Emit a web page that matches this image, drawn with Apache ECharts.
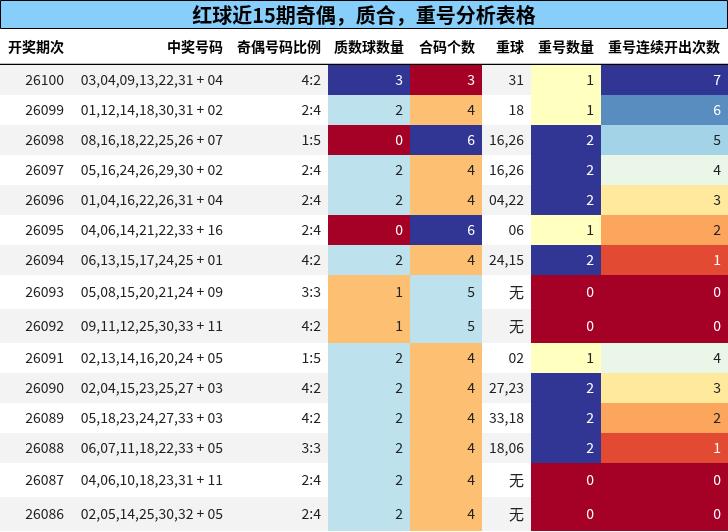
<!DOCTYPE html>
<html><head><meta charset="utf-8">
<script src="https://cdn.jsdelivr.net/npm/echarts@6/dist/echarts.min.js"></script>
<style>html,body{margin:0;padding:0;background:#fff}#c{width:728px;height:532px}</style>
</head><body><div id="c"></div>
<script>
const titleText = '红球近15期奇偶，质合，重号分析表格';
const headers = ['开奖期次','中奖号码','奇偶号码比例','质数球数量','合码个数','重球','重号数量','重号连续开出次数'];
const periods = ['26100','26099','26098','26097','26096','26095','26094','26093','26092','26091','26090','26089','26088','26087','26086'];
const numbers = ['03,04,09,13,22,31 + 04','01,12,14,18,30,31 + 02','08,16,18,22,25,26 + 07','05,16,24,26,29,30 + 02','01,04,16,22,26,31 + 04','04,06,14,21,22,33 + 16','06,13,15,17,24,25 + 01','05,08,15,20,21,24 + 09','09,11,12,25,30,33 + 11','02,13,14,16,20,24 + 05','02,04,15,23,25,27 + 03','05,18,23,24,27,33 + 03','06,07,11,18,22,33 + 05','04,06,10,18,23,31 + 11','02,05,14,25,30,32 + 05'];
const ratios = ['4:2','2:4','1:5','2:4','2:4','2:4','4:2','3:3','4:2','1:5','4:2','4:2','3:3','2:4','2:4'];
const primeCount = [3,2,0,2,2,0,2,1,1,2,2,2,2,2,2];
const compositeCount = [3,4,6,4,4,6,4,5,5,4,4,4,4,4,4];
const repeatBalls = ['31','18','16,26','16,26','04,22','06','24,15','无','无','02','27,23','33,18','18,06','无','无'];
const repeatCount = [1,1,2,2,2,1,2,0,0,1,2,2,2,0,0];
const repeatStreak = [7,6,5,4,3,2,1,0,0,4,3,2,1,0,0];

const colEdges = [0,75,230,328,410,482,531,601,728];
const colRanges = {3:[0,3],4:[3,6],6:[0,2],7:[0,7]};
const rdylbu = ['#a50026','#d73027','#f46d43','#fdae61','#fee090','#ffffbf','#e0f3f8','#abd9e9','#74add1','#4575b4','#313695'];
function hex(c){return [1,3,5].map(i=>parseInt(c.substr(i,2),16));}
function cmap(t){
  t=Math.max(0,Math.min(1,t));const p=t*10,i=Math.min(9,Math.floor(p)),f=p-i;
  const a=hex(rdylbu[i]),b=hex(rdylbu[i+1]);
  return 'rgb('+a.map((v,k)=>Math.round(v+(b[k]-v)*f)).join(',')+')';
}
// row boundaries (rows with 无 are taller)
const top0 = 65; const rowB=[top0];
repeatBalls.forEach(r=>rowB.push(rowB[rowB.length-1]+(r==='无'?34:30)));

const cells=[];
periods.forEach((p,r)=>{
  const vals=[p,numbers[r],ratios[r],primeCount[r],compositeCount[r],repeatBalls[r],repeatCount[r],repeatStreak[r]];
  vals.forEach((v,c)=>cells.push([c,r,v]));
});

function renderItem(params, api){
  const c=api.value(0), r=api.value(1); const v=cells[params.dataIndex][2];
  const p0=api.coord([colEdges[c],rowB[r]]), p1=api.coord([colEdges[c+1],rowB[r+1]]);
  let fill = r%2===0 ? '#f3f3f3' : '#ffffff'; let tc='#222';
  if(colRanges[c]){const [lo,hi]=colRanges[c];const t=(v-lo)/(hi-lo);fill=cmap(t);tc=(t<0.2||t>0.8)?'#ffffff':'#222';}
  const w=p1[0]-p0[0], h=p1[1]-p0[1];
  const isWu = v==='无';
  return {type:'group',children:[
    {type:'rect',shape:{x:p0[0],y:p0[1],width:w,height:h},style:{fill:fill}},
    {type:'text',style:{text:String(v),x:p1[0]-(c===0?11:7),y:p0[1]+h/2,align:'right',verticalAlign:'middle',
      fill:tc,font:(isWu?'15px':'14px')+' "Noto Sans CJK SC", "Liberation Sans", sans-serif'}}
  ]};
}

const hdrX=[8,223,321,404,475,524,594,720];
const graphics=[
  {type:'rect',shape:{x:0.5,y:0.5,width:727,height:28},style:{fill:'#87cefa',stroke:'#000',lineWidth:1}},
  {type:'text',style:{text:titleText,x:364,y:15,align:'center',verticalAlign:'middle',fill:'#000',font:'bold 20px "Noto Sans CJK SC", sans-serif'}},
  {type:'line',shape:{x1:0,y1:64.5,x2:728,y2:64.5},style:{stroke:'#000',lineWidth:1.5}}
];
headers.forEach((h,i)=>graphics.push({type:'text',style:{text:h,x:hdrX[i],y:47,align:i===0?'left':'right',verticalAlign:'middle',fill:'#000',font:'bold 14px "Noto Sans CJK SC", sans-serif'}}));

const chart=echarts.init(document.getElementById('c'));
chart.setOption({
  animation:false,
  grid:{left:0,right:0,top:0,bottom:0},
  xAxis:{type:'value',min:0,max:728,show:false},
  yAxis:{type:'value',min:0,max:532,inverse:true,show:false},
  series:[{type:'custom',renderItem:renderItem,data:cells.map(d=>[d[0],d[1]]),z:1}],
  graphic:graphics
});
</script></body></html>
